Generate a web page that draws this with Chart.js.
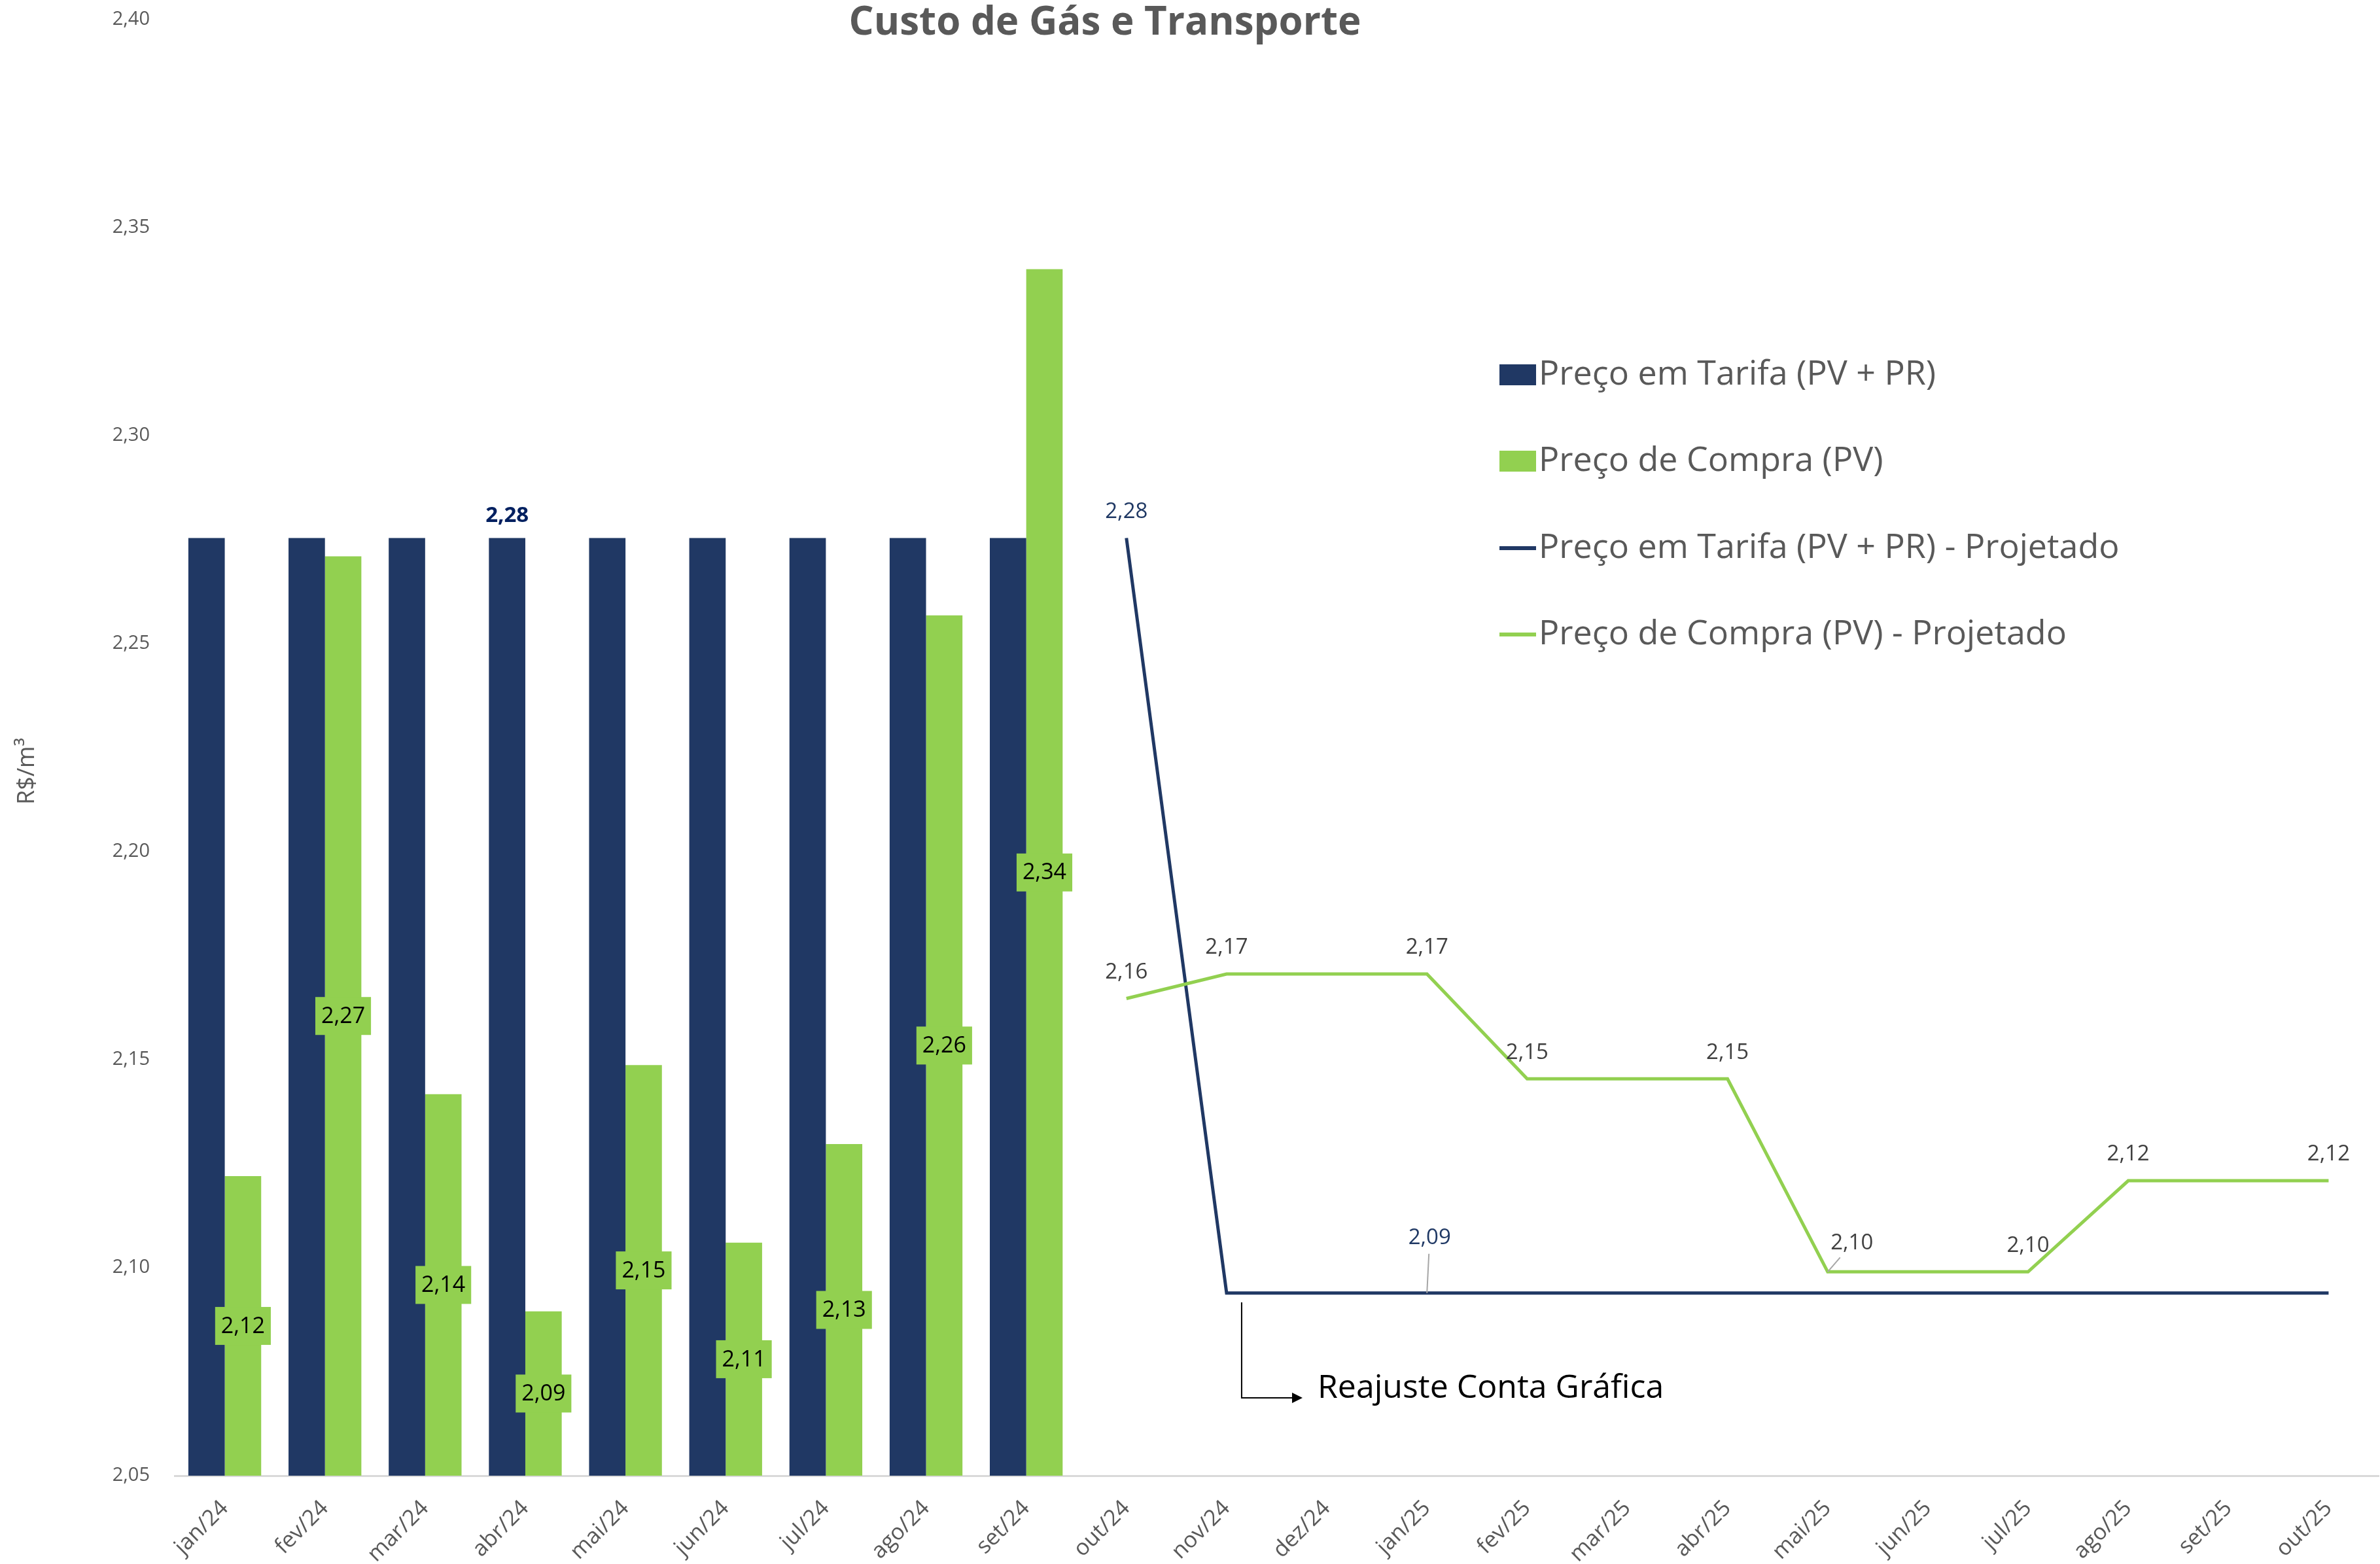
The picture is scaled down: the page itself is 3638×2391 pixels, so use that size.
<!DOCTYPE html>
<html lang="pt-BR">
<head>
<meta charset="utf-8">
<title>Custo de Gás e Transporte</title>
<script src="https://cdn.jsdelivr.net/npm/chart.js@4.4.1/dist/chart.umd.min.js"></script>
<style>
	html, body { margin: 0; padding: 0; background: #ffffff; }
	#chartWrap { width: 3638px; height: 2391px; }
</style>
</head>
<body>
<div id="chartWrap"><canvas id="custoChart" width="3638" height="2391"></canvas></div>
<script>
// --- Data ---
const categories = [
	"jan/24", "fev/24", "mar/24", "abr/24", "mai/24", "jun/24", "jul/24", "ago/24", "set/24",
	"out/24", "nov/24", "dez/24", "jan/25", "fev/25", "mar/25", "abr/25", "mai/25", "jun/25",
	"jul/25", "ago/25", "set/25", "out/25",
];

// Preço em Tarifa (PV + PR) - bars
const tarifa = [
	2.2754, 2.2754, 2.2754, 2.2754, 2.2754, 2.2754, 2.2754, 2.2754, 2.2754,
	null, null, null, null, null, null, null, null, null, null, null, null, null,
];

// Preço de Compra (PV) - bars
const compra = [
	2.122, 2.271, 2.1417, 2.0895, 2.1487, 2.106, 2.1297, 2.2568, 2.340,
	null, null, null, null, null, null, null, null, null, null, null, null, null,
];

// Projected lines
const tarifaProjetado = [
	null, null, null, null, null, null, null, null, null,
	2.2754, 2.0939, 2.0939, 2.0939, 2.0939, 2.0939, 2.0939, 2.0939, 2.0939, 2.0939, 2.0939, 2.0939, 2.0939,
];
const compraProjetado = [
	null, null, null, null, null, null, null, null, null,
	2.1647, 2.1706, 2.1706, 2.1706, 2.1454, 2.1454, 2.1454, 2.099, 2.099, 2.099, 2.1209, 2.1209, 2.1209,
];

// y axis ticks
const yTicks = [2.05, 2.10, 2.15, 2.20, 2.25, 2.30, 2.35, 2.40];

// which points carry a value label
const tarifaLabeled = [3];
const tarifaProjLabeled = [9, 12];
const compraProjLabeled = [9, 10, 12, 13, 15, 16, 18, 19, 21];

// --- Styles ---
const NAVY = "#203864";
const GREEN = "#92D050";
const GREY_TEXT = "#595959";
const FONT = "'Open Sans', 'Noto Sans', sans-serif";

function fmt(v) {
	return v.toFixed(2).replace(".", ",");
}

// Title and y axis caption
const titlePlugin = {
	id: "titleText",
	afterDraw(chart) {
		const ctx = chart.ctx;
		ctx.save();
		ctx.font = "bold 60px " + FONT;
		ctx.fillStyle = GREY_TEXT;
		ctx.textAlign = "center";
		ctx.textBaseline = "middle";
		ctx.fillText("Custo de Gás e Transporte", 1689, 36);

		// R$/m³ rotated, a bit below the middle of the plot
		ctx.translate(42, 1179);
		ctx.rotate(-Math.PI / 2);
		ctx.font = "36px " + FONT;
		ctx.fillText("R$/m³", 0, 0);
		ctx.restore();
	},
};

// Value labels for bars and lines
const valueLabels = {
	id: "valueLabels",
	afterDatasetsDraw(chart) {
		const ctx = chart.ctx;
		const yScale = chart.scales.y;
		const basePx = yScale.getPixelForValue(yScale.min);
		ctx.save();
		ctx.textAlign = "center";
		ctx.textBaseline = "middle";

		// green bars: boxed label centred in the bar
		const compraMeta = chart.getDatasetMeta(1);
		ctx.font = "34px " + FONT;
		compraMeta.data.forEach((bar, i) => {
			if (compra[i] == null) return;
			const txt = fmt(compra[i]);
			const w = ctx.measureText(txt).width + 18;
			const h = 58;
			const cy = (bar.y + basePx) / 2;
			ctx.fillStyle = GREEN;
			ctx.fillRect(bar.x - w / 2, cy - h / 2, w, h);
			ctx.fillStyle = "#000000";
			ctx.fillText(txt, bar.x, cy + 1);
		});

		// navy bars: only one label, bold
		const tarifaMeta = chart.getDatasetMeta(0);
		ctx.font = "bold 33px " + FONT;
		ctx.fillStyle = "#002060";
		tarifaLabeled.forEach((i) => {
			const bar = tarifaMeta.data[i];
			ctx.fillText(fmt(tarifa[i]), bar.x, bar.y - 34);
		});

		// projected navy line
		const tpMeta = chart.getDatasetMeta(2);
		ctx.font = "33px " + FONT;
		tarifaProjLabeled.forEach((i) => {
			const pt = tpMeta.data[i];
			let dy = 40;
			if (i === 12) {
				dy = 84;
				ctx.strokeStyle = "#A6A6A6";
				ctx.lineWidth = 2;
				ctx.beginPath();
				ctx.moveTo(pt.x + 3, pt.y - dy + 24);
				ctx.lineTo(pt.x, pt.y);
				ctx.stroke();
			}
			ctx.fillStyle = "#1F3864";
			ctx.fillText(fmt(tarifaProjetado[i]), pt.x + (i === 12 ? 4 : 0), pt.y - dy);
		});

		// projected green line
		const cpMeta = chart.getDatasetMeta(3);
		compraProjLabeled.forEach((i) => {
			const pt = cpMeta.data[i];
			let dx = 0;
			let dy = 40;
			if (i === 16) {
				dx = 37;
				dy = 44;
				ctx.strokeStyle = "#A6A6A6";
				ctx.lineWidth = 2;
				ctx.beginPath();
				ctx.moveTo(pt.x + dx - 18, pt.y - dy + 22);
				ctx.lineTo(pt.x, pt.y);
				ctx.stroke();
			}
			ctx.fillStyle = "#404040";
			ctx.fillText(fmt(compraProjetado[i]), pt.x + dx, pt.y - dy);
		});
		ctx.restore();
	},
};

// Legend drawn inside the plot, upper right
const legendPlugin = {
	id: "insideLegend",
	afterDraw(chart) {
		const ctx = chart.ctx;
		const x0 = 2292;
		const rows = [573, 705, 838, 970];
		ctx.save();
		ctx.font = "52px " + FONT;
		ctx.textAlign = "left";
		ctx.textBaseline = "middle";
		chart.data.datasets.forEach((ds, k) => {
			const y = rows[k];
			if (ds.type === "line") {
				ctx.fillStyle = ds.borderColor;
				ctx.fillRect(x0, y - 3, 56, 6);
			} else {
				ctx.fillStyle = ds.backgroundColor;
				ctx.fillRect(x0, y - 16, 56, 32);
			}
			ctx.fillStyle = GREY_TEXT;
			ctx.fillText(ds.label, x0 + 60, y);
		});
		ctx.restore();
	},
};

// "Reajuste Conta Gráfica" callout
const calloutPlugin = {
	id: "callout",
	afterDraw(chart) {
		const ctx = chart.ctx;
		const xs = chart.scales.x;
		const x = xs.getPixelForValue(10) + 23;
		const yTop = 1991;
		const yBot = 2137;
		const xEnd = 1991;
		ctx.save();
		ctx.strokeStyle = "#000000";
		ctx.lineWidth = 2;
		ctx.beginPath();
		ctx.moveTo(x, yTop);
		ctx.lineTo(x, yBot);
		ctx.lineTo(xEnd - 12, yBot);
		ctx.stroke();
		ctx.fillStyle = "#000000";
		ctx.beginPath();
		ctx.moveTo(xEnd, yBot);
		ctx.lineTo(xEnd - 16, yBot - 8);
		ctx.lineTo(xEnd - 16, yBot + 8);
		ctx.closePath();
		ctx.fill();
		ctx.font = "50px " + FONT;
		ctx.textAlign = "left";
		ctx.textBaseline = "middle";
		ctx.fillText("Reajuste Conta Gráfica", 2014, 2123);
		ctx.restore();
	},
};

const ctx = document.getElementById("custoChart");

new Chart(ctx, {
	type: "bar",
	data: {
		labels: categories,
		datasets: [
			{
				label: "Preço em Tarifa (PV + PR)",
				data: tarifa,
				backgroundColor: NAVY,
				borderColor: NAVY,
				borderWidth: 0,
				categoryPercentage: 0.727,
				barPercentage: 1.0,
				order: 2,
			},
			{
				label: "Preço de Compra (PV)",
				data: compra,
				backgroundColor: GREEN,
				borderColor: GREEN,
				borderWidth: 0,
				categoryPercentage: 0.727,
				barPercentage: 1.0,
				order: 2,
			},
			{
				type: "line",
				label: "Preço em Tarifa (PV + PR) - Projetado",
				data: tarifaProjetado,
				borderColor: NAVY,
				backgroundColor: NAVY,
				borderWidth: 5,
				pointRadius: 0,
				tension: 0,
				order: 1,
			},
			{
				type: "line",
				label: "Preço de Compra (PV) - Projetado",
				data: compraProjetado,
				borderColor: GREEN,
				backgroundColor: GREEN,
				borderWidth: 5,
				pointRadius: 0,
				tension: 0,
				order: 0,
			},
		],
	},
	options: {
		responsive: false,
		animation: false,
		devicePixelRatio: 1,
		layout: {
			padding: { top: 30, right: 2, left: 0, bottom: 0 },
		},
		plugins: {
			legend: { display: false },
			title: { display: false },
			tooltip: { enabled: false },
		},
		scales: {
			x: {
				grid: { display: false },
				border: { display: true, color: "#D9D9D9", width: 3 },
				ticks: {
					color: GREY_TEXT,
					font: { family: FONT, size: 34 },
					minRotation: 45,
					maxRotation: 45,
					autoSkip: false,
					padding: 22,
				},
				afterFit(scale) {
					scale.height = 135;
				},
			},
			y: {
				min: 2.05,
				max: 2.40,
				grid: { display: false },
				border: { display: false },
				afterBuildTicks(scale) {
					scale.ticks = yTicks.map((v) => ({ value: v }));
				},
				ticks: {
					color: GREY_TEXT,
					font: { family: FONT, size: 29 },
					padding: 30,
					callback: (value) => fmt(value),
				},
				afterFit(scale) {
					// fixed axis width; the top label may overhang the plot
					scale.width = 267;
					scale.paddingTop = 0;
					scale.paddingBottom = 0;
				},
			},
		},
	},
	plugins: [titlePlugin, valueLabels, legendPlugin, calloutPlugin],
});
</script>
</body>
</html>
